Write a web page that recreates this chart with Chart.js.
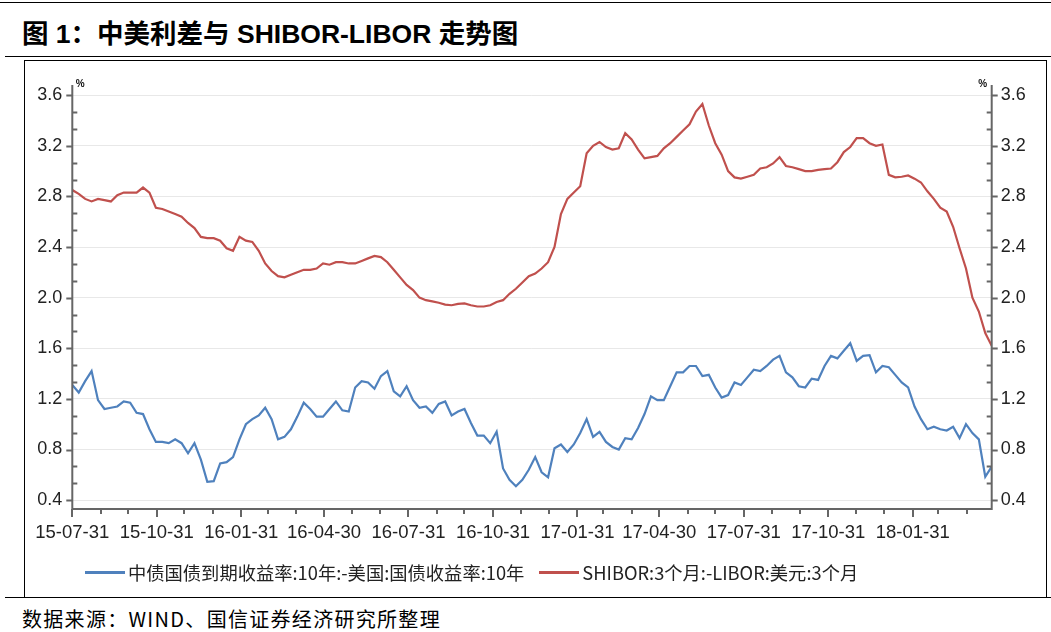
<!DOCTYPE html>
<html>
<head>
<meta charset="utf-8">
<script src="https://cdn.jsdelivr.net/npm/chart.js@4.4.1/dist/chart.umd.min.js"></script>
<style>
  html,body{margin:0;padding:0;background:#fff;}
  body{width:1051px;height:632px;position:relative;overflow:hidden;font-family:"Liberation Sans","Noto Sans CJK SC",sans-serif;color:#000;}
  .rule{position:absolute;right:0;height:1px;background:#000;}
  #title{position:absolute;left:22px;top:17px;font-size:26.5px;font-weight:bold;line-height:34px;white-space:nowrap;}
  #frame{position:absolute;left:24px;top:60px;width:1021px;height:536px;border:1px solid #000;}
  #wrap{position:absolute;left:25px;top:61px;width:1020px;height:500px;}
  #legend{position:absolute;left:85px;top:561px;height:22px;display:flex;align-items:center;font-family:"Noto Sans CJK SC",sans-serif;font-size:18.3px;color:#222;white-space:nowrap;}
  #legend .item{display:flex;align-items:center;margin-right:15px;}
  #legend .sw{display:inline-block;width:40px;height:3px;margin-right:3px;}
  #source{position:absolute;left:22px;top:606px;font-family:"Noto Sans CJK SC",sans-serif;font-size:20px;line-height:26px;letter-spacing:1.3px;white-space:nowrap;}
</style>
</head>
<body>
<div class="rule" style="top:2px;left:0"></div>
<div id="title">图 1：中美利差与 SHIBOR-LIBOR 走势图</div>
<div class="rule" style="top:56px;left:5px"></div>
<div id="frame"></div>
<div id="wrap"><canvas id="chart" width="1020" height="500"></canvas></div>
<div id="legend">
  <span class="item"><i class="sw" style="background:#4f81bd"></i><span id="lg0"></span></span>
  <span class="item"><i class="sw" style="background:#c0504d"></i><span id="lg1"></span></span>
</div>
<div class="rule" style="top:597px;left:5px"></div>
<div id="source">数据来源：WIND、国信证券经济研究所整理</div>

<script>
// weekly readings (Fridays), first one on 2015-07-31
const FIRST_DATE = '2015-07-31';
const LAST_DATE = '2018-04-27';

const seriesNames = [
  '中债国债到期收益率:10年:-美国:国债收益率:10年',
  'SHIBOR:3个月:-LIBOR:美元:3个月'
];

// 中美10年国债利差 (%)
const cnUsSpread = [
  1.31,1.25,1.34,1.42,1.19,1.12,1.13,1.14,1.18,1.17,1.09,1.08,0.96,0.86,0.86,0.85,
  0.88,0.85,0.77,0.85,0.72,0.545,0.55,0.69,0.70,0.74,0.88,1.00,1.04,1.07,1.13,1.04,
  0.88,0.90,0.96,1.06,1.17,1.12,1.06,1.06,1.12,1.18,1.11,1.10,1.29,1.34,1.33,1.28,
  1.38,1.42,1.26,1.22,1.30,1.19,1.13,1.14,1.09,1.16,1.18,1.07,1.10,1.12,1.01,0.91,
  0.91,0.85,0.94,0.65,0.56,0.51,0.56,0.64,0.74,0.62,0.58,0.81,0.84,0.78,0.84,0.93,
  1.04,0.90,0.94,0.86,0.82,0.80,0.89,0.88,0.97,1.08,1.22,1.19,1.19,1.30,1.41,1.41,
  1.46,1.46,1.38,1.39,1.29,1.21,1.23,1.33,1.31,1.37,1.43,1.42,1.46,1.51,1.54,1.41,
  1.37,1.30,1.29,1.36,1.35,1.46,1.54,1.52,1.58,1.64,1.50,1.54,1.545,1.41,1.46,1.45,
  1.39,1.33,1.29,1.14,1.04,0.96,0.98,0.96,0.95,0.98,0.89,1.00,0.93,0.88,0.585,0.665
];

// SHIBOR 3M - LIBOR USD 3M (%)
const shiborLibor = [
  2.85,2.82,2.78,2.76,2.78,2.77,2.76,2.81,2.83,2.83,2.83,2.87,2.83,2.71,2.70,2.68,
  2.66,2.64,2.59,2.55,2.48,2.47,2.47,2.45,2.39,2.37,2.48,2.45,2.44,2.37,2.27,2.21,
  2.17,2.16,2.18,2.20,2.22,2.22,2.23,2.27,2.26,2.28,2.28,2.27,2.27,2.29,2.31,2.33,
  2.32,2.28,2.22,2.16,2.10,2.06,2.00,1.98,1.97,1.96,1.945,1.94,1.95,1.955,1.94,1.93,
  1.93,1.94,1.965,1.98,2.03,2.07,2.12,2.17,2.19,2.23,2.28,2.40,2.66,2.78,2.83,2.88,
  3.14,3.20,3.23,3.19,3.17,3.18,3.30,3.25,3.17,3.10,3.11,3.12,3.18,3.22,3.27,3.32,
  3.37,3.47,3.53,3.36,3.22,3.13,3.00,2.95,2.94,2.955,2.97,3.02,3.03,3.06,3.11,3.04,
  3.03,3.015,3.00,3.00,3.01,3.015,3.02,3.07,3.15,3.19,3.26,3.26,3.22,3.20,3.21,2.97,
  2.95,2.955,2.965,2.94,2.91,2.84,2.78,2.71,2.68,2.56,2.39,2.23,2.00,1.89,1.72,1.62
];

const xTickLabels = ['15-07-31','15-10-31','16-01-31','16-04-30','16-07-31','16-10-31',
                     '17-01-31','17-04-30','17-07-31','17-10-31','18-01-31'];
const yTicks = [0.4,0.8,1.2,1.6,2.0,2.4,2.8,3.2,3.6];

const DAY = 86400000;
const t0 = Date.parse(FIRST_DATE);
const dayOf = s => Math.round((Date.parse(s) - t0) / DAY);
const lastDay = dayOf(LAST_DATE);

// month-end positions for the small ticks on the date axis
const monthEnds = [];
for (let y = 2015, m = 6; ; m++) {
  if (m > 11) { m = 0; y++; }
  const d = Math.round((Date.UTC(y, m + 1, 0) - t0) / DAY);
  if (d > lastDay) break;
  monthEnds.push(d);
}
const quarterDays = xTickLabels.map(l => dayOf('20' + l));

const toPoints = vals => vals.map((v, i) => ({x: i * 7, y: v}));

document.getElementById('lg0').textContent = seriesNames[0];
document.getElementById('lg1').textContent = seriesNames[1];

const axisPlugin = {
  id: 'axisMarks',
  afterDraw(chart) {
    const {ctx, chartArea: a, scales} = chart;
    const yl = scales.y, yr = scales.y1, xs = scales.x;
    ctx.save();
    ctx.strokeStyle = '#666';
    ctx.lineWidth = 2;
    ctx.beginPath();
    ctx.moveTo(a.left, a.top); ctx.lineTo(a.left, a.bottom);
    ctx.lineTo(a.right, a.bottom); ctx.lineTo(a.right, a.top);
    // value axes: majors outside, minors inside
    for (let k = 0; k <= 24; k++) {
      const v = 0.4 + k * 0.4 / 3;
      const py = Math.round(yl.getPixelForValue(v)) + 0.5;
      const pr = Math.round(yr.getPixelForValue(v)) + 0.5;
      if (k % 3 === 0) {
        ctx.moveTo(a.left - 6, py); ctx.lineTo(a.left, py);
        ctx.moveTo(a.right, pr); ctx.lineTo(a.right + 6, pr);
      } else {
        ctx.moveTo(a.left, py); ctx.lineTo(a.left + 5, py);
        ctx.moveTo(a.right - 5, pr); ctx.lineTo(a.right, pr);
      }
    }
    // date axis
    monthEnds.forEach(d => {
      const px = Math.round(xs.getPixelForValue(d));
      const len = quarterDays.includes(d) ? 8 : 5;
      ctx.moveTo(px, a.bottom); ctx.lineTo(px, a.bottom + len);
    });
    ctx.stroke();
    ctx.fillStyle = '#111';
    ctx.font = 'bold 10px "Liberation Sans", sans-serif';
    ctx.textAlign = 'center';
    ctx.textBaseline = 'middle';
    ctx.fillText('%', a.left + 8, a.top - 1);
    ctx.fillText('%', a.right - 9, a.top - 1);
    ctx.restore();
  }
};

const tickFont = {family: '"Liberation Sans", sans-serif', size: 18};

new Chart(document.getElementById('chart'), {
  type: 'line',
  data: {
    datasets: [{
      label: seriesNames[0],
      data: toPoints(cnUsSpread),
      borderColor: '#4f81bd',
      borderWidth: 2.2,
      pointRadius: 0,
      tension: 0,
      yAxisID: 'y'
    }, {
      label: seriesNames[1],
      data: toPoints(shiborLibor),
      borderColor: '#c0504d',
      borderWidth: 2.2,
      pointRadius: 0,
      tension: 0,
      yAxisID: 'y1'
    }]
  },
  options: {
    responsive: false,
    animation: false,
    layout: {padding: {top: 24, left: 0, right: 0, bottom: 12}},
    plugins: {legend: {display: false}, tooltip: {enabled: false}},
    scales: {
      x: {
        type: 'linear',
        min: 0,
        max: lastDay,
        grid: {display: false},
        border: {display: false},
        afterBuildTicks: s => { s.ticks = quarterDays.map(v => ({value: v})); },
        afterFit: s => { s.height = 40; },
        ticks: {
          autoSkip: false, maxRotation: 0, padding: 5, color: '#222',
          font: {family: '"Liberation Sans", sans-serif', size: 18.5},
          callback: (v, i) => xTickLabels[i]
        }
      },
      y: {
        position: 'left',
        min: 0.33, max: 3.68,
        grid: {color: '#e8e8e8', lineWidth: 1, drawTicks: false},
        border: {display: false},
        afterBuildTicks: s => { s.ticks = yTicks.map(v => ({value: v})); },
        afterFit: s => { s.width = 47.3; },
        ticks: {padding: 10, color: '#222', font: tickFont, callback: v => v.toFixed(1)}
      },
      y1: {
        position: 'right',
        min: 0.33, max: 3.68,
        grid: {drawOnChartArea: false, drawTicks: false},
        border: {display: false},
        afterBuildTicks: s => { s.ticks = yTicks.map(v => ({value: v})); },
        afterFit: s => { s.width = 53.3; },
        ticks: {padding: 9, color: '#222', font: tickFont, callback: v => v.toFixed(1)}
      }
    }
  },
  plugins: [axisPlugin]
});
</script>
</body>
</html>
